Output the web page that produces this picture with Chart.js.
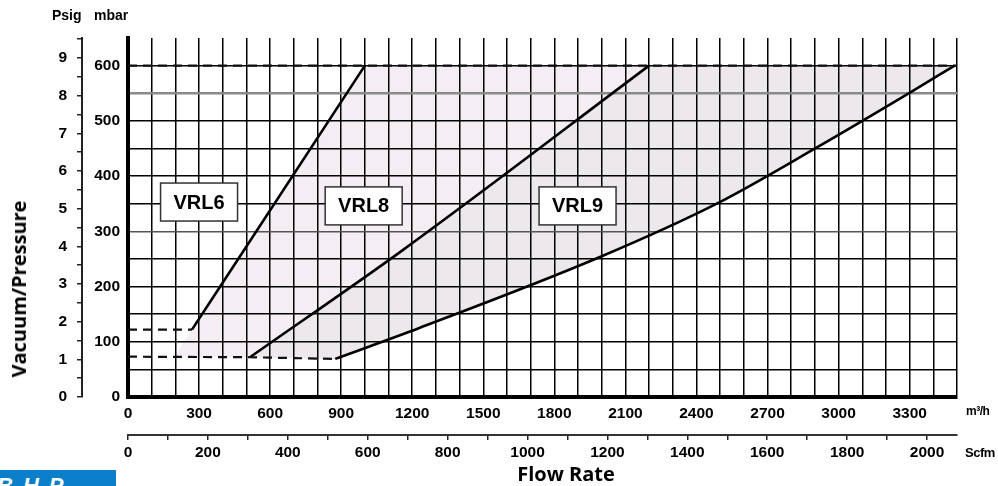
<!DOCTYPE html>
<html><head><meta charset="utf-8">
<script src="https://cdn.jsdelivr.net/npm/chart.js@4.4.0/dist/chart.umd.min.js"></script>
<style>
html,body{margin:0;padding:0;background:#fff;}
#wrap{position:relative;width:998px;height:486px;overflow:hidden;background:#fff;}
#c{position:absolute;left:0;top:0;}
.t{position:absolute;font-family:'Liberation Sans',Arial,sans-serif;font-weight:bold;color:#000;white-space:nowrap;line-height:1;}
.ttl{position:absolute;font-family:'Open Sans',sans-serif;font-weight:700;color:#000;white-space:nowrap;line-height:1;}
#logo{position:absolute;left:0;top:470px;width:116px;height:16px;background:#0b7fc9;overflow:hidden;}
#logo span{position:absolute;left:-3px;top:5px;font-family:'Liberation Sans',Arial,sans-serif;font-weight:bold;font-style:italic;font-size:22px;color:#fff;letter-spacing:10px;line-height:1;}
</style></head><body>
<div id="wrap">
<canvas id="c" width="998" height="486"></canvas>
<div class="t" style="left:52px;top:8px;font-size:14px">Psig</div>
<div class="t" style="left:94px;top:8px;font-size:14px">mbar</div>
<div class="t" style="left:966px;top:405px;font-size:12px;letter-spacing:-0.5px">m³/h</div>
<div class="t" style="left:965px;top:446px;font-size:13px;letter-spacing:-0.5px">Scfm</div>
<div class="ttl" style="left:19px;top:289px;font-size:20px;transform:translate(-50%,-50%) rotate(-90deg);">Vacuum/Pressure</div>
<div class="ttl" style="left:566px;top:474px;font-size:20px;transform:translate(-50%,-50%);">Flow Rate</div>
<div id="logo"><span>BHP</span></div>
</div>
<script>
// ---- data (flow in m³/h, pressure in mbar) ----
const vrl6Flow = [270, 1000];
const vrl6Mbar = [122, 600];
const vrl8Flow = [515, 1160, 2200];
const vrl8Mbar = [72, 266, 600];
const vrl9Flow = [875, 1230, 1990, 2490, 2905, 3305, 3490];
const vrl9Mbar = [69, 125, 253, 351, 451, 552, 600];
const maxLineFlow = [0, 3500];
const maxLineMbar = [600, 600];
const vrl6LowFlow = [0, 270];
const vrl6LowMbar = [122, 122];
const lowLineFlow = [0, 515, 875];
const lowLineMbar = [73, 72, 69];
const shadeStartFlow = 195;   // where the VRL6 extension meets the low dashed line
const shadeStartMbar = 72.5;
const labelNames = ['VRL6', 'VRL8', 'VRL9'];
const labelFlow = [300, 995, 1898];
const labelMbar = [353, 346, 346];
// axes
const flowMax = 3500, flowGridStep = 100, flowLabelStep = 300;
const mbarMax = 650, mbarGridStep = 50, mbarLabelStep = 100;
const psiMax = 9.53, psiTickStep = 0.5;
const scfmMax = 2075, scfmTickStep = 100, scfmLabelStep = 200;

const pts = (xs, ys) => xs.map((x, i) => ({x, y: ys[i]}));

// shading boundaries (built from the series)
const shadeAUpper = [{x: shadeStartFlow, y: shadeStartMbar}].concat(pts(vrl6Flow, vrl6Mbar), [{x: vrl8Flow[vrl8Flow.length-1], y: maxLineMbar[0]}]);
const shadeALower = [{x: shadeStartFlow, y: shadeStartMbar}].concat(pts(vrl8Flow, vrl8Mbar));
const shadeBUpper = pts(vrl8Flow, vrl8Mbar).concat([{x: vrl9Flow[vrl9Flow.length-1], y: maxLineMbar[0]}]);
const shadeBLower = [{x: vrl8Flow[0], y: vrl8Mbar[0]}].concat(pts(vrl9Flow, vrl9Mbar));

const hidden = {showLine: true, pointRadius: 0, borderWidth: 0, borderColor: 'transparent', backgroundColor: 'transparent', fill: false};
const solid = {showLine: true, pointRadius: 0, borderWidth: 2.6, borderColor: '#000', fill: false, cubicInterpolationMode: 'monotone'};
const dashed = {showLine: true, pointRadius: 0, borderWidth: 2.2, borderColor: '#111', borderDash: [9, 6], fill: false};

const font = {family: "'Liberation Sans', Arial, sans-serif", weight: 'bold', size: 15.5};

const labelPlugin = {
  id: 'vrlLabels',
  afterDatasetsDraw(chart) {
    const {ctx, scales: {x, y}} = chart;
    ctx.save();
    labelNames.forEach((name, i) => {
      const cx = x.getPixelForValue(labelFlow[i]);
      const cy = y.getPixelForValue(labelMbar[i]);
      const w = 77, h = 38;
      ctx.fillStyle = '#fff';
      ctx.fillRect(cx - w/2, cy - h/2, w, h);
      ctx.strokeStyle = '#333';
      ctx.lineWidth = 1.5;
      ctx.strokeRect(cx - w/2, cy - h/2, w, h);
      ctx.fillStyle = '#000';
      ctx.font = "bold 20px 'Liberation Sans', Arial, sans-serif";
      ctx.textAlign = 'center';
      ctx.textBaseline = 'middle';
      ctx.fillText(name, cx, cy + 1);
    });
    ctx.restore();
  }
};

new Chart(document.getElementById('c'), {
  type: 'scatter',
  data: {
    datasets: [
      Object.assign({}, hidden, {data: shadeAUpper, fill: {target: 1, above: '#f4eef4', below: '#f4eef4'}}),
      Object.assign({}, hidden, {data: shadeALower}),
      Object.assign({}, hidden, {data: shadeBUpper, fill: {target: 3, above: '#ece8ec', below: '#ece8ec'}}),
      Object.assign({}, hidden, {data: shadeBLower}),
      Object.assign({}, dashed, {data: pts(maxLineFlow, maxLineMbar)}),
      Object.assign({}, dashed, {data: pts(vrl6LowFlow, vrl6LowMbar)}),
      Object.assign({}, dashed, {data: pts(lowLineFlow, lowLineMbar)}),
      Object.assign({}, solid, {data: pts(vrl6Flow, vrl6Mbar)}),
      Object.assign({}, solid, {data: pts(vrl8Flow, vrl8Mbar)}),
      Object.assign({}, solid, {data: pts(vrl9Flow, vrl9Mbar)})
    ]
  },
  options: {
    responsive: false,
    animation: false,
    layout: {padding: {top: 38, right: 41, left: 0, bottom: 0}},
    plugins: {legend: {display: false}, tooltip: {enabled: false}, filler: {drawTime: 'beforeDraw'}},
    scales: {
      x: {
        type: 'linear', position: 'bottom', min: 0, max: flowMax, weight: 0,
        ticks: {stepSize: flowGridStep, autoSkip: false, maxRotation: 0, padding: 7, color: '#000', font,
          callback: v => (v % flowLabelStep === 0 ? String(v) : '')},
        grid: {color: '#000', lineWidth: 1.5, drawTicks: false},
        border: {color: '#000', width: 4},
        afterFit: s => { s.height = 38; }
      },
      x2: {
        type: 'linear', position: 'bottom', min: 0, max: scfmMax, weight: 1,
        afterBuildTicks: s => { s.ticks = s.ticks.filter(t => Math.abs(t.value % scfmTickStep) < 1e-6); },
        ticks: {stepSize: scfmTickStep, includeBounds: false, autoSkip: false, maxRotation: 0, padding: 3, color: '#000', font,
          callback: v => (v % scfmLabelStep === 0 ? String(v) : '')},
        grid: {drawOnChartArea: false, drawTicks: true, tickLength: 5, color: '#222', lineWidth: 1.5},
        border: {color: '#333', width: 2},
        afterFit: s => { s.height = 51; }
      },
      y: {
        type: 'linear', position: 'left', min: 0, max: mbarMax, weight: 0,
        ticks: {stepSize: mbarGridStep, autoSkip: false, padding: 8, color: '#000', font,
          callback: v => (v % mbarLabelStep === 0 ? String(v) : '')},
        grid: {drawTicks: false, lineWidth: c => (c.tick && c.tick.value === 550 ? 2.5 : 1.5),
          color: c => (c.tick && c.tick.value === mbarMax ? 'transparent' : (c.tick && c.tick.value === 550 ? '#8a8a8a' : (c.tick && c.tick.value === 300 ? '#555' : '#000')))},
        border: {color: '#000', width: 4},
        afterFit: s => { s.width = 46; }
      },
      y2: {
        type: 'linear', position: 'left', min: 0, max: psiMax, weight: 1,
        afterBuildTicks: s => { s.ticks = s.ticks.filter(t => Math.abs((t.value / psiTickStep) - Math.round(t.value / psiTickStep)) < 1e-6); },
        ticks: {stepSize: psiTickStep, includeBounds: false, autoSkip: false, padding: 10, color: '#000', font,
          callback: v => (Number.isInteger(v) ? String(v) : '')},
        grid: {drawOnChartArea: false, drawTicks: true, tickLength: 5, color: '#222', lineWidth: 1.5},
        border: {color: '#222', width: 2},
        afterFit: s => { s.width = 82; }
      }
    }
  },
  plugins: [labelPlugin]
});
</script>
</body></html>
